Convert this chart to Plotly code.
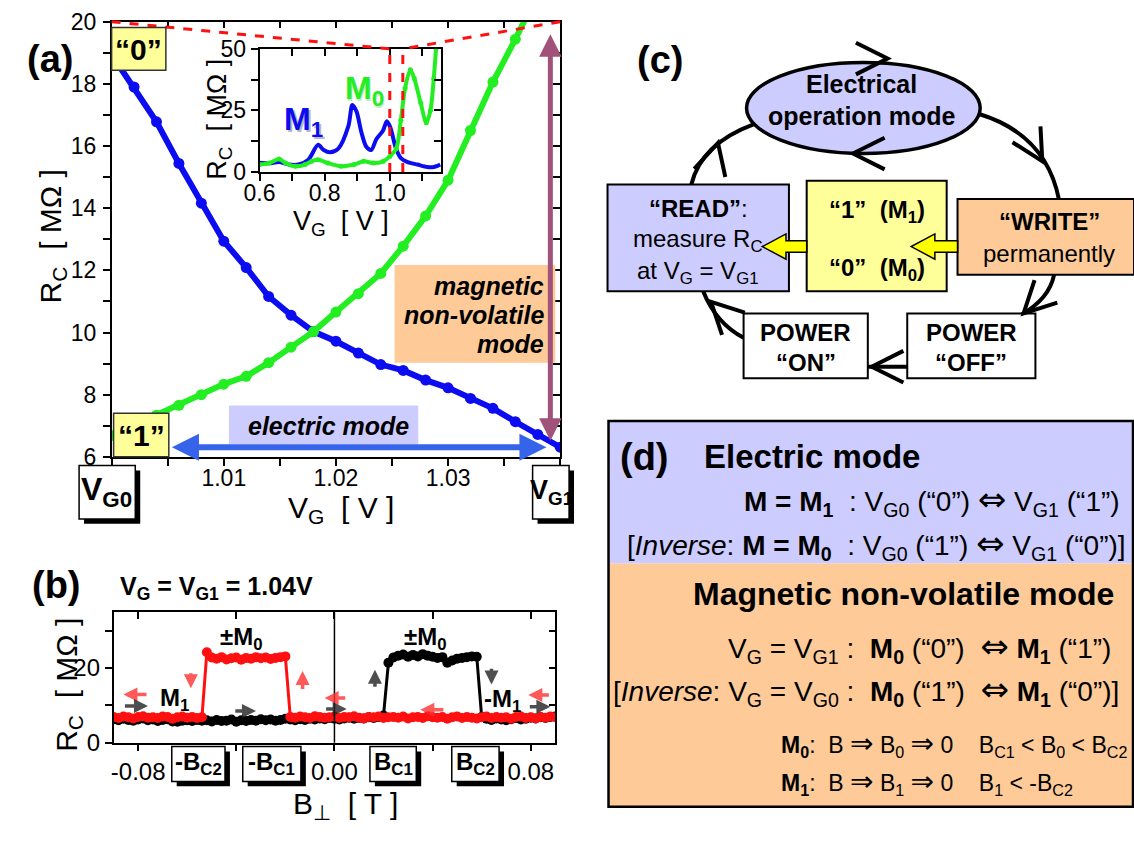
import math
import plotly.graph_objects as go

W, H = 1134, 842
FONT = "Liberation Sans, Arial, sans-serif"

# ---------------- data ----------------
# (a) contact resistance vs gate voltage for the two magnetic states
vg_a = [1.000, 1.002, 1.004, 1.006, 1.008, 1.010, 1.012, 1.014, 1.016, 1.018,
        1.020, 1.022, 1.024, 1.026, 1.028, 1.030, 1.032, 1.034, 1.036, 1.038, 1.040]
rc_a_m1 = [18.94, 17.90, 16.78, 15.44, 14.16, 12.94, 12.09, 11.16, 10.56, 10.03,
           9.72, 9.34, 8.97, 8.78, 8.47, 8.22, 7.88, 7.56, 7.13, 6.72, 6.31]
rc_a_m0 = [6.69, 7.02, 7.34, 7.66, 8.00, 8.34, 8.59, 9.03, 9.53, 10.03,
           10.66, 11.25, 11.90, 12.78, 13.75, 14.90, 16.50, 18.06, 19.44, 20.90]

# (a) inset: wide gate-voltage sweep
vg_ins_m1 = [0.600, 0.630, 0.660, 0.690, 0.720, 0.750, 0.780, 0.797, 0.817, 0.842,
             0.873, 0.885, 0.898, 0.913, 0.928, 0.943, 0.959, 0.979, 0.991, 1.002,
             1.019, 1.034, 1.055, 1.085, 1.115, 1.135, 1.155]
rc_ins_m1 = [3.7, 3.5, 4.0, 3.0, 3.0, 5.0, 11.0, 8.9, 8.0, 9.5,
             18.7, 27.2, 24.5, 16.0, 10.2, 8.9, 13.4, 16.7, 20.6, 18.0,
             9.5, 5.6, 4.0, 3.0, 2.0, 2.0, 3.0]
vg_ins_m0 = [0.600, 0.630, 0.660, 0.680, 0.710, 0.740, 0.760, 0.780, 0.810, 0.850,
             0.890, 0.920, 0.950, 0.980, 1.000, 1.020, 1.034, 1.047, 1.063, 1.075,
             1.095, 1.112, 1.125, 1.135, 1.142]
rc_ins_m0 = [3.0, 3.6, 5.3, 3.6, 2.3, 3.0, 4.3, 5.0, 3.6, 2.3,
             3.0, 4.3, 3.6, 4.3, 6.3, 9.5, 21.0, 34.0, 41.5, 38.0,
             28.0, 20.0, 25.0, 38.0, 50.0]

# (b) resistance vs perpendicular field at V_G = V_G1
b_field = [round(-0.090 + 0.002 * i, 3) for i in range(91)]
rc_b_red = [6.9, 6.6, 7.0, 6.8, 6.5, 6.9, 7.1, 6.7, 6.8, 6.6,
            7.0, 6.9, 6.4, 6.8, 7.0, 6.7, 6.9, 6.6, 6.8,
            24.2, 22.8, 22.5, 22.9, 22.3, 22.6, 22.8, 22.2, 22.7, 22.5,
            22.9, 22.6, 22.8, 22.4, 22.7, 22.9, 23.1,
            6.9, 6.7, 7.0, 6.8, 6.6, 7.1, 6.9, 6.7, 6.8, 7.0,
            6.6, 6.9, 6.8, 7.1, 6.7, 6.5, 6.9, 6.8, 7.0, 6.6,
            6.8, 6.9, 6.7, 7.0, 6.5, 6.8, 6.9, 6.6, 7.1, 6.8,
            6.7, 6.9, 6.4, 6.8, 7.0, 6.6, 6.9, 6.7, 6.5, 6.8,
            7.0, 6.6, 6.9, 6.7, 6.8, 6.4, 6.9, 7.0, 6.6, 6.8,
            6.5, 6.9, 6.7, 7.0, 6.8]
rc_b_black = [6.3, 6.0, 6.4, 6.1, 5.9, 6.2, 6.5, 6.0, 6.2, 5.8,
              6.1, 6.3, 5.7, 5.6, 5.9, 6.0, 5.8, 6.1, 5.9, 6.0,
              5.7, 6.1, 5.8, 5.9, 6.2, 5.6, 6.0, 5.8, 6.1, 5.9,
              6.3, 6.0, 6.2, 5.9, 6.1, 6.4, 6.2, 6.0, 6.3, 6.1,
              6.4, 6.2, 6.5, 6.3, 6.6, 6.4, 6.2, 6.5, 6.7, 6.4,
              6.6, 6.5, 6.8, 6.6, 6.9, 7.3,
              21.4, 22.8, 23.3, 23.6, 23.0, 23.5, 23.1, 23.7, 23.3, 23.0,
              22.7, 22.9, 21.4, 22.0, 22.5, 22.7, 22.9, 23.1, 23.0,
              6.9, 6.4, 6.1, 6.5, 6.2, 6.0, 6.3, 6.6, 6.2, 6.4,
              6.7, 6.5, 6.8, 6.6, 6.9, 7.0]

# axis ranges and ticks
a_xrange, a_yrange = [1.000, 1.040], [6, 20]
a_xticks, a_yticks = [1.01, 1.02, 1.03], [6, 8, 10, 12, 14, 16, 18, 20]
ins_xrange, ins_yrange = [0.6, 1.157], [0, 50]
ins_xticks, ins_yticks = [0.6, 0.8, 1.0], [0, 25, 50]
b_xrange, b_yrange = [-0.09, 0.09], [0, 35]
b_xticks, b_xtext = [-0.08, 0.0, 0.08], ["-0.08", "0.00", "0.08"]
b_yticks = [0, 20]

# ---------------- page geometry (pixels) ----------------
A_X, A_Y = (97, 552), (9, 458)
I_X, I_Y = (247, 431), (37, 164)
B_X, B_Y = (99, 547), (618, 753)


def fx(p):
    return p / W


def fy(p):
    return 1 - p / H


def ins_px(v):
    return I_X[0] + (v - ins_xrange[0]) / (ins_xrange[1] - ins_xrange[0]) * (I_X[1] - I_X[0])


BLUE = "#0c0cf0"
GREEN = "#22ee22"
RED = "#ff1010"

fig = go.Figure()

# (a) main curves
fig.add_trace(go.Scatter(x=vg_a, y=rc_a_m1, mode="lines+markers",
                         line=dict(color=BLUE, width=6), marker=dict(size=11, color=BLUE),
                         xaxis="x", yaxis="y", hoverinfo="skip"))
fig.add_trace(go.Scatter(x=vg_a[:len(rc_a_m0)], y=rc_a_m0, mode="lines+markers",
                         line=dict(color=GREEN, width=6), marker=dict(size=11, color=GREEN),
                         xaxis="x", yaxis="y", hoverinfo="skip"))
# (a) inset curves
fig.add_trace(go.Scatter(x=vg_ins_m1, y=rc_ins_m1, mode="lines",
                         line=dict(color=BLUE, width=4, shape="spline", smoothing=0.8),
                         xaxis="x3", yaxis="y3", hoverinfo="skip"))
fig.add_trace(go.Scatter(x=vg_ins_m0, y=rc_ins_m0, mode="lines+markers",
                         line=dict(color=GREEN, width=4, shape="spline", smoothing=0.8),
                         marker=dict(size=5, color=GREEN),
                         xaxis="x3", yaxis="y3", hoverinfo="skip"))
# (b) field sweeps
fig.add_trace(go.Scatter(x=b_field, y=rc_b_black, mode="lines+markers",
                         line=dict(color="black", width=3), marker=dict(size=10, color="black"),
                         xaxis="x2", yaxis="y2", hoverinfo="skip"))
fig.add_trace(go.Scatter(x=b_field, y=rc_b_red, mode="lines+markers",
                         line=dict(color=RED, width=3), marker=dict(size=10, color=RED),
                         xaxis="x2", yaxis="y2", hoverinfo="skip"))
# empty traces that carry the inner-tick frame axes
for xa, ya, xv, yv in (("x4", "y4", 1.02, 10), ("x5", "y5", 0, 10), ("x6", "y6", 0.8, 10)):
    fig.add_trace(go.Scatter(x=[xv], y=[yv], mode="markers", marker=dict(opacity=0),
                             xaxis=xa, yaxis=ya, hoverinfo="skip"))


def tickfont(size):
    return dict(family=FONT, size=size, color="black")


def base_axis(**kw):
    d = dict(showline=True, linecolor="black", linewidth=1.5, ticks="outside", ticklen=7,
             tickwidth=1.5, tickcolor="black", showgrid=False, zeroline=False,
             fixedrange=True, tickfont=tickfont(23))
    d.update(kw)
    return d


def minor(**kw):
    d = dict(ticks="outside", ticklen=7, tickwidth=1.5, tickcolor="black", showgrid=False)
    d.update(kw)
    return d


def inner(**kw):
    d = dict(showline=True, linecolor="black", linewidth=1.5, ticks="inside", ticklen=7,
             tickwidth=1.5, tickcolor="black", showgrid=False, zeroline=False,
             showticklabels=False, fixedrange=True)
    d.update(kw)
    return d


a_xminor = dict(tickmode="linear", tick0=1.0, dtick=0.005)
a_yminor = dict(tickmode="linear", tick0=6, dtick=1)
i_xminor = dict(tickmode="linear", tick0=0.6, dtick=0.1)
i_yminor = dict(tickmode="linear", tick0=0, dtick=12.5)
b_xminor = dict(tickmode="array", tickvals=[-0.04, 0.04])
b_yminor = dict(tickmode="array", tickvals=[10, 30])

layout = dict(
    width=W, height=H, margin=dict(l=0, r=0, t=0, b=0),
    paper_bgcolor="white", plot_bgcolor="white", showlegend=False, hovermode=False,
    font=dict(family=FONT, color="black"),
    # (a)
    xaxis=base_axis(domain=[fx(A_X[0]), fx(A_X[1])], anchor="y", range=a_xrange,
                    tickmode="array", tickvals=a_xticks, tickformat=".2f",
                    ticklabelstandoff=-7, minor=minor(**a_xminor)),
    yaxis=base_axis(domain=[fy(A_Y[1]), fy(A_Y[0])], anchor="x", range=a_yrange,
                    tickmode="array", tickvals=a_yticks, ticklabelstandoff=2,
                    minor=minor(**a_yminor)),
    xaxis4=inner(overlaying="x", anchor="y4", side="top", range=a_xrange,
                 tickmode="array", tickvals=a_xticks, minor=minor(ticks="inside", **a_xminor)),
    yaxis4=inner(overlaying="y", anchor="x4", side="right", range=a_yrange,
                 tickmode="array", tickvals=a_yticks, minor=minor(ticks="inside", **a_yminor)),
    # (b)
    xaxis2=base_axis(domain=[fx(B_X[0]), fx(B_X[1])], anchor="y2", range=b_xrange,
                     tickmode="array", tickvals=b_xticks, ticktext=b_xtext,
                     tickfont=tickfont(24), minor=minor(**b_xminor)),
    yaxis2=base_axis(domain=[fy(B_Y[1]), fy(B_Y[0])], anchor="x2", range=b_yrange,
                     tickmode="array", tickvals=b_yticks, tickfont=tickfont(24),
                     minor=minor(**b_yminor)),
    xaxis5=inner(overlaying="x2", anchor="y5", side="top", range=b_xrange,
                 tickmode="array", tickvals=b_xticks, minor=minor(ticks="inside", **b_xminor)),
    yaxis5=inner(overlaying="y2", anchor="x5", side="right", range=b_yrange,
                 tickmode="array", tickvals=b_yticks, minor=minor(ticks="inside", **b_yminor)),
    # (a) inset
    xaxis3=base_axis(domain=[fx(I_X[0]), fx(I_X[1])], anchor="y3", range=ins_xrange,
                     tickmode="array", tickvals=ins_xticks, tickformat=".1f",
                     ticklabelstandoff=-7, tickfont=tickfont(23), minor=minor(**i_xminor)),
    yaxis3=base_axis(domain=[fy(I_Y[1]), fy(I_Y[0])], anchor="x3", range=ins_yrange,
                     tickmode="array", tickvals=ins_yticks, tickfont=tickfont(23),
                     minor=minor(**i_yminor)),
    xaxis6=inner(overlaying="x3", anchor="y6", side="top", range=ins_xrange,
                 tickmode="array", tickvals=ins_xticks, minor=minor(ticks="inside", **i_xminor)),
    yaxis6=inner(overlaying="y3", anchor="x6", side="right", range=ins_yrange,
                 tickmode="array", tickvals=ins_yticks, minor=minor(ticks="inside", **i_yminor)),
)

shapes = []
ann = []


def rect(x0, y0, x1, y1, fill, lw=1.5, lc="black"):
    shapes.append(dict(type="rect", xref="paper", yref="paper", x0=fx(x0), x1=fx(x1),
                       y0=fy(y1), y1=fy(y0), fillcolor=fill,
                       line=dict(color=lc, width=lw), layer="above"))


def shadow_box(x0, y0, x1, y1, off=5):
    rect(x0 + off, y0 + off, x1 + off, y1 + off, "black", lw=0, lc="black")
    rect(x0, y0, x1, y1, "white", lw=1.5)


def txt(x, y, s, size, color="black", xanchor="center", angle=0):
    ann.append(dict(x=fx(x), y=fy(y), xref="paper", yref="paper", text=s, showarrow=False,
                    font=dict(family=FONT, size=size, color=color), xanchor=xanchor,
                    yanchor="middle", textangle=angle))


def big(sym, size, family="DejaVu Sans"):
    return f'<span style="font-family:{family};font-size:{size}px">{sym}</span>'


def line_px(x0, y0, x1, y1, color="black", width=4, dash="solid"):
    shapes.append(dict(type="line", xref="paper", yref="paper", x0=fx(x0), y0=fy(y0),
                       x1=fx(x1), y1=fy(y1), line=dict(color=color, width=width, dash=dash),
                       layer="above"))


def qcurve(p0, c, p1, width=4):
    path = (f"M {fx(p0[0])},{fy(p0[1])} Q {fx(c[0])},{fy(c[1])} {fx(p1[0])},{fy(p1[1])}")
    shapes.append(dict(type="path", xref="paper", yref="paper", path=path,
                       line=dict(color="black", width=width), layer="above"))


def chevron(tx, ty, ang, arm=36, spread=27, width=4):
    a = math.radians(ang)
    pts = []
    for s in (1, -1):
        b = a + s * math.radians(spread)
        pts.append((tx - arm * math.cos(b), ty - arm * math.sin(b)))
    path = (f"M {fx(pts[0][0])},{fy(pts[0][1])} L {fx(tx)},{fy(ty)} "
            f"L {fx(pts[1][0])},{fy(pts[1][1])}")
    shapes.append(dict(type="path", xref="paper", yref="paper", path=path,
                       line=dict(color="black", width=width), layer="above"))


def yellow_arrow(x_tail, x_tip, y, shaft=6, head=13, head_len=24):
    pts = [(x_tail, y - shaft), (x_tip + head_len, y - shaft), (x_tip + head_len, y - head),
           (x_tip, y), (x_tip + head_len, y + head), (x_tip + head_len, y + shaft),
           (x_tail, y + shaft)]
    path = "M " + " L ".join(f"{fx(px)},{fy(py)}" for px, py in pts) + " Z"
    shapes.append(dict(type="path", xref="paper", yref="paper", path=path,
                       fillcolor="#ffff00", line=dict(color="black", width=1.5), layer="above"))


def arrow_px(x0, y0, x1, y1, color, width, both=False, size=1.0):
    # head at (x1, y1); tail offset given in screen pixels
    ann.append(dict(x=fx(x1), y=fy(y1), ax=x0 - x1, ay=y0 - y1, xref="paper", yref="paper",
                    axref="pixel", ayref="pixel", text="", showarrow=True, arrowhead=2,
                    arrowsize=size, arrowwidth=width, arrowcolor=color,
                    arrowside="end+start" if both else "end"))


def arrow_b(x0, y0, x1, y1, color):
    ann.append(dict(x=x1, y=y1, ax=x0, ay=y0, xref="x2", yref="y2", axref="x2", ayref="y2",
                    text="", showarrow=True, arrowhead=2, arrowsize=0.8, arrowwidth=3.5,
                    arrowcolor=color, opacity=0.8))


# ---------------- panel (a) decorations ----------------
# zoom guides from the main frame to the inset window
xi0, xi1 = ins_px(1.0), ins_px(1.04)
line_px(A_X[0], A_Y[0], xi0, I_Y[0], color=RED, width=3, dash="dash")
line_px(A_X[1], A_Y[0], xi1, I_Y[0], color=RED, width=3, dash="dash")
for v in (1.0, 1.04):
    shapes.append(dict(type="line", xref="x3", yref="y3", x0=v, x1=v, y0=0, y1=50,
                       line=dict(color=RED, width=3, dash="dash"), layer="above"))

rect(97, 15, 152, 59, "#ffff99", lw=1.5, lc="#333333")
txt(124, 38, "<b>“0”</b>", 30)
rect(99, 413, 155, 458, "#ffff99", lw=1.5, lc="#333333")
txt(127, 436, "<b>“1”</b>", 30)

rect(216, 405, 408, 445, "#ccccff", lw=0, lc="#ccccff")
txt(317, 426, "<b><i>electric mode</i></b>", 25)
arrow_px(162, 448, 538, 448, "#3563ea", 6, both=True, size=0.9)
line_px(178, 448, 522, 448, color="#c8d4ff", width=2, dash="dot")

rect(384, 260, 547, 361, "#fdca98", lw=0, lc="#fdca98")
txt(538, 282, "<b><i>magnetic</i></b>", 25, xanchor="right")
txt(538, 312, "<b><i>non-volatile</i></b>", 25, xanchor="right")
txt(538, 342, "<b><i>mode</i></b>", 25, xanchor="right")
arrow_px(542, 430, 542, 22, "#a0527a", 5, both=True, size=0.9)
line_px(542, 40, 542, 412, color="#e8c860", width=2, dash="dot")

shadow_box(64, 467, 121, 522)
txt(92, 494, "<b>V<sub>G0</sub></b>", 32)
shadow_box(524, 467, 561, 522)
txt(543, 494, "<b>V<sub>G1</sub></b>", 27)

txt(34, 47, "<b>(a)</b>", 38)
txt(37, 230, "R<sub>C</sub>  [ MΩ ]", 30, angle=-90)
txt(330, 512, "V<sub>G</sub>  [ V ]", 30)
txt(206, 110, "R<sub>C</sub>  [ MΩ ]", 27, angle=-90)
txt(330, 217, "V<sub>G</sub>  [ V ]", 27)
txt(294, 114, "<b>M<sub>1</sub></b>", 32, color="#b8b8c8")
txt(292, 112, "<b>M<sub>1</sub></b>", 32, color=BLUE)
txt(355, 82, "<b>M<sub>0</sub></b>", 32, color="#c8e8c8")
txt(353, 80, "<b>M<sub>0</sub></b>", 32, color=GREEN)

# ---------------- panel (b) decorations ----------------
shapes.append(dict(type="line", xref="x2", yref="y2 domain", x0=0, x1=0, y0=0, y1=1,
                   line=dict(color="black", width=1.5), layer="above"))
txt(41, 590, "<b>(b)</b>", 38)
txt(203, 593, "<b>V<sub>G</sub> = V<sub>G1</sub> = 1.04V</b>", 25)
for (x0, x1, label) in ((158, 212, "-B<sub>C2</sub>"), (230, 289, "-B<sub>C1</sub>"),
                        (359, 406, "B<sub>C1</sub>"), (442, 490, "B<sub>C2</sub>")):
    shadow_box(x0, 757, x1, 793)
    txt((x0 + x1) / 2, 774, f"<b>{label}</b>", 24)
txt(53, 693, "R<sub>C</sub>  [ MΩ ]", 30, angle=-90)
txt(334, 818, "B<sub>⊥</sub>  [ T ]", 30)

# sweep-direction arrows and state labels in (b)
RED_A, BLK_A = "#ff3030", "#222222"
arrow_b(-0.076, 12.9, -0.086, 12.9, RED_A)
arrow_b(-0.086, 9.8, -0.076, 9.8, BLK_A)
arrow_b(-0.0585, 19.0, -0.0585, 14.6, RED_A)
arrow_b(-0.041, 8.5, -0.032, 8.5, BLK_A)
arrow_b(-0.013, 14.0, -0.013, 19.2, RED_A)
arrow_b(0.005, 12.0, -0.004, 12.0, RED_A)
arrow_b(-0.004, 9.0, 0.005, 9.0, BLK_A)
arrow_b(0.0165, 14.6, 0.0165, 19.5, BLK_A)
arrow_b(0.045, 8.8, 0.035, 8.8, RED_A)
arrow_b(0.064, 20.2, 0.064, 15.6, BLK_A)
arrow_b(0.088, 12.8, 0.079, 12.8, RED_A)
arrow_b(0.079, 9.6, 0.088, 9.6, BLK_A)
for x, y, s in ((-0.065, 11.5, "<b>M<sub>1</sub></b>"), (0.0685, 11.2, "<b>-M<sub>1</sub></b>"),
                (-0.038, 27.9, "<b>±M<sub>0</sub></b>"), (0.037, 27.9, "<b>±M<sub>0</sub></b>")):
    ann.append(dict(x=x, y=y, xref="x2", yref="y2", text=s, showarrow=False,
                    font=dict(family=FONT, size=24, color="black")))

# ---------------- panel (c): operation cycle ----------------
txt(653, 48, "<b>(c)</b>", 38)
# cycle arcs
qcurve((976, 104), (1045, 125), (1058, 193))
qcurve((1053, 270), (1048, 295), (1020, 311))
line_px(904, 365, 864, 365, width=4)
qcurve((738, 335), (710, 320), (697, 287))
qcurve((685, 177), (695, 135), (748, 115))
# ellipse node
shapes.append(dict(type="circle", xref="paper", yref="paper", x0=fx(741), x1=fx(978),
                   y0=fy(145), y1=fy(51), fillcolor="#ccccff",
                   line=dict(color="black", width=3.5), layer="above"))
txt(858, 73, "<b>Electrical</b>", 25)
txt(858, 106, "<b>operation mode</b>", 25)
# boxes
rect(600, 177, 784, 287, "#ccccff", lw=2)
rect(802, 173, 944, 287, "#ffff99", lw=2)
rect(955, 192, 1134, 270, "#fdca98", lw=2)
rect(738, 310, 864, 377, "white", lw=2)
rect(904, 310, 1034, 377, "white", lw=2)
txt(692, 202, "<b>“READ”</b>:", 24)
txt(692, 235, "measure R<sub>C</sub>", 24)
txt(692, 268, "at V<sub>G</sub> = V<sub>G1</sub>", 24)
txt(873, 205, "<b>“1”  (M<sub>1</sub>)</b>", 24)
txt(873, 265, "<b>“0”  (M<sub>0</sub>)</b>", 24)
txt(1048, 215, "<b>“WRITE”</b>", 24)
txt(1048, 248, "permanently", 24)
txt(801, 330, "<b>POWER</b>", 24)
txt(801, 361, "<b>“ON”</b>", 24)
txt(969, 330, "<b>POWER</b>", 24)
txt(969, 361, "<b>“OFF”</b>", 24)
yellow_arrow(955, 908, 241)
yellow_arrow(802, 757, 241)
# direction marks
chevron(884, 47, 0)
chevron(849, 145, 180)
chevron(1041, 153, 60)
chevron(1022, 310, 135)
chevron(868, 365, 180)
chevron(705, 298, 225)
chevron(712, 134, 285)

# ---------------- panel (d): summary table ----------------
IFF = big("⇔", 34)
IMP = big("⇒", 28)
rect(601, 421, 1133, 568, "#ccccff", lw=0, lc="#ccccff")
rect(601, 568, 1133, 819, "#fdca98", lw=0, lc="#fdca98")
shapes.append(dict(type="rect", xref="paper", yref="paper", x0=fx(601), x1=fx(1133),
                   y0=fy(819), y1=fy(421), line=dict(color="black", width=2.5), layer="above"))
txt(637, 458, "<b>(d)</b>", 38)
txt(696, 458, "<b>Electric mode</b>", 33, xanchor="left")
txt(1122, 503, f"<b>M = M<sub>1</sub></b>  : V<sub>G0</sub> (“0”) {IFF} V<sub>G1</sub> (“1”)",
    28, xanchor="right")
txt(1128, 548, f"[<i>Inverse</i>: <b>M = M<sub>0</sub></b>  : V<sub>G0</sub> (“1”) {IFF} "
    "V<sub>G1</sub> (“0”)]", 28, xanchor="right")
txt(900, 600, "<b>Magnetic non-volatile mode</b>", 32)
txt(1113, 654, f"V<sub>G</sub> = V<sub>G1</sub> :  <b>M<sub>0</sub></b> (“0”)  {IFF} "
    "<b>M<sub>1</sub></b> (“1”)", 28, xanchor="right")
txt(1121, 699, f"[<i>Inverse</i>: V<sub>G</sub> = V<sub>G0</sub> :  <b>M<sub>0</sub></b> (“1”)  {IFF} "
    "<b>M<sub>1</sub></b> (“0”)]", 28, xanchor="right")
txt(774, 754, f"<b>M<sub>0</sub></b>:  B {IMP} B<sub>0</sub> {IMP} 0    B<sub>C1</sub> &lt; "
    "B<sub>0</sub> &lt; B<sub>C2</sub>", 23, xanchor="left")
txt(774, 794, f"<b>M<sub>1</sub></b>:  B {IMP} B<sub>1</sub> {IMP} 0    B<sub>1</sub> &lt; "
    "-B<sub>C2</sub>", 23, xanchor="left")

layout["shapes"] = shapes
layout["annotations"] = ann
fig.update_layout(**layout)
fig.write_html("out.html")
